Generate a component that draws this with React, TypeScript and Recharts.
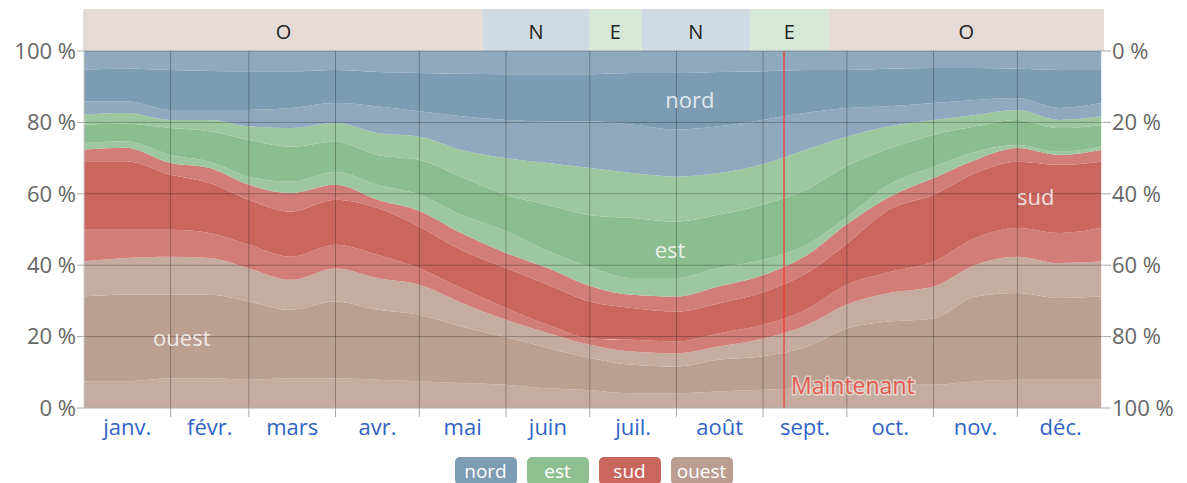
import { Area, ComposedChart, ReferenceArea, ReferenceDot, ReferenceLine, XAxis, YAxis } from 'recharts'

// day of year for each sample
const days = [0, 15, 31, 45, 59, 74, 90, 105, 120, 135, 151, 166, 181, 196, 212, 227, 243, 258, 273, 288, 304, 319, 334, 349, 364]

// cumulative band edges, in % (bottom to top)
const ouest1 = [7.5, 7.5, 8.3, 8.3, 7.9, 8.3, 8.3, 7.9, 7.5, 7.0, 6.5, 5.5, 5.0, 4.1, 4.1, 4.6, 5.1, 5.5, 6.0, 6.5, 6.5, 7.5, 7.9, 7.9, 7.9]
const ouest2 = [31.3, 31.7, 31.7, 31.7, 29.8, 27.5, 29.8, 27.5, 26.1, 22.8, 19.8, 16.8, 14.0, 12.1, 11.6, 13.5, 14.5, 17.0, 22.3, 24.2, 25.1, 31.2, 32.2, 30.8, 31.2]
const ouest3 = [41.1, 42.0, 42.4, 42.0, 39.1, 35.9, 39.1, 36.4, 34.5, 29.5, 24.7, 21.0, 17.7, 15.8, 15.3, 17.2, 19.5, 23.0, 29.0, 32.2, 34.0, 40.1, 42.4, 40.6, 41.0]
const sud1 = [49.9, 49.9, 49.9, 49.0, 45.7, 42.4, 45.7, 42.9, 39.1, 33.6, 28.0, 23.3, 19.5, 19.1, 18.6, 20.9, 23.3, 27.4, 34.5, 38.0, 41.0, 47.6, 50.4, 49.0, 50.4]
const sud2 = [69.1, 69.1, 65.3, 63.0, 58.3, 55.0, 58.3, 56.0, 50.8, 44.3, 39.2, 34.5, 29.8, 28.0, 27.0, 29.3, 32.4, 37.5, 46.0, 55.5, 59.7, 65.8, 69.0, 68.1, 69.0]
const sud3 = [72.4, 72.9, 68.6, 67.2, 62.5, 60.2, 62.5, 58.3, 55.2, 49.0, 43.4, 39.2, 34.2, 31.7, 31.2, 34.0, 37.2, 42.5, 51.5, 59.0, 64.4, 69.5, 72.8, 70.9, 72.3]
const est1 = [74.2, 74.7, 70.9, 69.0, 64.8, 63.4, 66.2, 62.5, 59.7, 54.1, 49.5, 44.0, 39.5, 36.4, 36.4, 39.2, 41.5, 45.5, 53.5, 62.5, 67.6, 71.8, 73.7, 71.8, 73.2]
const est2 = [79.4, 79.6, 78.4, 77.5, 75.1, 73.2, 74.6, 70.9, 69.5, 64.8, 59.7, 56.9, 54.0, 53.2, 52.2, 54.1, 57.0, 61.0, 67.8, 72.7, 76.5, 78.9, 80.7, 78.4, 79.3]
const est3 = [82.2, 82.6, 80.7, 80.7, 78.9, 78.4, 79.8, 77.0, 76.0, 72.3, 70.0, 68.6, 67.2, 65.8, 64.8, 65.8, 68.3, 72.3, 76.0, 78.9, 80.7, 82.1, 83.5, 80.7, 81.7]
const nord1 = [85.9, 85.9, 83.5, 83.5, 83.5, 84.0, 85.4, 84.5, 83.1, 81.7, 80.7, 80.3, 80.3, 79.4, 78.0, 78.9, 80.7, 82.6, 84.0, 84.5, 85.4, 86.3, 86.8, 84.0, 85.4]
const nord2 = [94.8, 95.0, 94.7, 94.4, 94.3, 94.3, 94.7, 94.1, 93.8, 93.6, 93.5, 93.5, 93.5, 93.8, 93.8, 94.1, 94.3, 94.7, 94.7, 95.0, 95.2, 95.2, 95.0, 94.7, 94.7]

const monthLabels = ['janv.', 'févr.', 'mars', 'avr.', 'mai', 'juin', 'juil.', 'août', 'sept.', 'oct.', 'nov.', 'déc.']
const monthLengths = [31, 28, 31, 30, 31, 30, 31, 31, 30, 31, 30, 31]

// dominant direction strip above the plot
const dominantLabels = ['O', 'N', 'E', 'N', 'E', 'O']
const dominantStarts = [0, 142.8, 180.7, 199.6, 238.3, 266.5]

const TODAY = 250.5

const Y_MAX = 111.76
const FONT = '"Open Sans", "Noto Sans", sans-serif'

const stripColors: Record<string, string> = { O: '#e6dbd7', N: '#cfdbe3', E: '#d6e8d7' }

const layers = [
  { key: 'ouestA', fill: '#c6aca0' },
  { key: 'ouestB', fill: '#bb9f91' },
  { key: 'ouestC', fill: '#c6aca0' },
  { key: 'sudA', fill: '#d27d77' },
  { key: 'sudB', fill: '#c9675f' },
  { key: 'sudC', fill: '#d27d77' },
  { key: 'estA', fill: '#9dc89f' },
  { key: 'estB', fill: '#8bbd8e' },
  { key: 'estC', fill: '#9dc89f' },
  { key: 'nordA', fill: '#8faabe' },
  { key: 'nordB', fill: '#7b9cb3' },
  { key: 'nordC', fill: '#8faabe' },
]

const legendItems = [
  { name: 'nord', color: '#7d9db5' },
  { name: 'est', color: '#8dbf8f' },
  { name: 'sud', color: '#c9675f' },
  { name: 'ouest', color: '#bb9e91' },
]

const rows = days.map((day, i) => ({
  day,
  ouestA: [0, ouest1[i]],
  ouestB: [ouest1[i], ouest2[i]],
  ouestC: [ouest2[i], ouest3[i]],
  sudA: [ouest3[i], sud1[i]],
  sudB: [sud1[i], sud2[i]],
  sudC: [sud2[i], sud3[i]],
  estA: [sud3[i], est1[i]],
  estB: [est1[i], est2[i]],
  estC: [est2[i], est3[i]],
  nordA: [est3[i], nord1[i]],
  nordB: [nord1[i], nord2[i]],
  nordC: [nord2[i], 100],
}))

const monthEdges: number[] = []
const monthMids: number[] = []
monthLengths.reduce((start, len) => {
  monthMids.push(start + len / 2)
  if (start + len < 365) monthEdges.push(start + len)
  return start + len
}, 0)

const xTicks = [...monthEdges, ...monthMids].sort((a, b) => a - b)
const yTicks = [0, 20, 40, 60, 80, 100]

function MonthTick(props: any) {
  const { x, y, payload } = props
  const idx = monthMids.indexOf(payload.value)
  if (idx >= 0) {
    return (
      <text x={x} y={y + 19} textAnchor="middle" fill="#2f63c6" fontSize={22} fontFamily={FONT}>
        {monthLabels[idx]}
      </text>
    )
  }
  return <line x1={x} x2={x} y1={y - 8} y2={y + 1} stroke="#aaa" />
}

function NowLabel(props: any) {
  const { viewBox } = props
  if (!viewBox) return null
  return (
    <text
      x={viewBox.x + 7}
      y={viewBox.y + viewBox.height - 14}
      fill="#e25b52"
      fontSize={23}
      fontFamily={FONT}
      stroke="rgba(255,255,255,0.5)"
      strokeWidth={3}
      paintOrder="stroke"
    >
      Maintenant
    </text>
  )
}

const areaLabel = (value: string) => ({
  value,
  position: 'center' as const,
  fill: 'rgba(255,255,255,0.8)',
  fontSize: 22,
  fontFamily: FONT,
})

export default function App() {
  return (
    <div style={{ fontFamily: FONT }}>
      <ComposedChart width={1171} height={440} data={rows} margin={{ top: 1, right: 0, bottom: 0, left: 0 }}>
        <XAxis
          dataKey="day"
          type="number"
          domain={[0, 365]}
          ticks={xTicks}
          interval={0}
          tickLine={false}
          tick={<MonthTick />}
          axisLine={{ stroke: '#aaa' }}
          height={40}
        />
        <YAxis
          yAxisId="left"
          type="number"
          domain={[0, Y_MAX]}
          ticks={yTicks}
          width={76}
          tickSize={7}
          tickMargin={1}
          tickLine={{ stroke: '#aaa' }}
          axisLine={{ stroke: '#ccc' }}
          tick={{ fill: '#666', fontSize: 22, fontFamily: FONT }}
          tickFormatter={(v: number) => `${v} %`}
        />
        <YAxis
          yAxisId="right"
          orientation="right"
          type="number"
          domain={[0, Y_MAX]}
          ticks={yTicks}
          width={75}
          tickSize={7}
          tickMargin={1}
          tickLine={{ stroke: '#aaa' }}
          axisLine={false}
          tick={{ fill: '#666', fontSize: 22, fontFamily: FONT }}
          tickFormatter={(v: number) => `${100 - v} %`}
        />

        {layers.map((l) => (
          <Area
            key={l.key}
            yAxisId="left"
            dataKey={l.key}
            type="monotone"
            stroke="none"
            fill={l.fill}
            fillOpacity={1}
            isAnimationActive={false}
            dot={false}
            activeDot={false}
          />
        ))}
        {/* invisible copy so the right-hand axis has a series */}
        <Area
          yAxisId="right"
          dataKey="nordC"
          type="monotone"
          stroke="none"
          fill="none"
          fillOpacity={0}
          isAnimationActive={false}
          dot={false}
          activeDot={false}
        />

        {dominantLabels.map((lab, i) => (
          <ReferenceArea
            key={`strip-${i}`}
            yAxisId="left"
            x1={dominantStarts[i]}
            x2={i + 1 < dominantStarts.length ? dominantStarts[i + 1] : 365}
            y1={100}
            y2={Y_MAX}
            fill={stripColors[lab]}
            fillOpacity={1}
            stroke="none"
            label={{ value: lab, position: 'center', fill: '#222', fontSize: 20, fontFamily: FONT, dy: 2 }}
          />
        ))}

        {[20, 40, 60, 80, 100].map((v) => (
          <ReferenceLine key={`h-${v}`} yAxisId="left" y={v} stroke="rgba(0,0,0,0.28)" />
        ))}
        {monthEdges.map((d) => (
          <ReferenceLine
            key={`v-${d}`}
            yAxisId="left"
            segment={[
              { x: d, y: 0 },
              { x: d, y: 100 },
            ]}
            stroke="rgba(0,0,0,0.28)"
          />
        ))}

        <ReferenceLine
          yAxisId="left"
          segment={[
            { x: TODAY, y: 0 },
            { x: TODAY, y: 100 },
          ]}
          stroke="#ec3b35"
          strokeOpacity={0.85}
          strokeWidth={1.5}
          label={<NowLabel />}
        />

        <ReferenceDot yAxisId="left" x={216.8} y={86.3} r={0} label={areaLabel('nord')} />
        <ReferenceDot yAxisId="left" x={209.7} y={44.3} r={0} label={areaLabel('est')} />
        <ReferenceDot yAxisId="left" x={340.6} y={59.1} r={0} label={areaLabel('sud')} />
        <ReferenceDot yAxisId="left" x={35} y={19.6} r={0} label={areaLabel('ouest')} />
      </ComposedChart>

      <div style={{ display: 'flex', justifyContent: 'center', gap: 10, marginTop: 9 }}>
        {legendItems.map((item) => (
          <div
            key={item.name}
            style={{
              background: item.color,
              color: '#fff',
              width: 62,
              height: 28,
              borderRadius: 5,
              fontSize: 19,
              lineHeight: '28px',
              textAlign: 'center',
            }}
          >
            {item.name}
          </div>
        ))}
      </div>
    </div>
  )
}
